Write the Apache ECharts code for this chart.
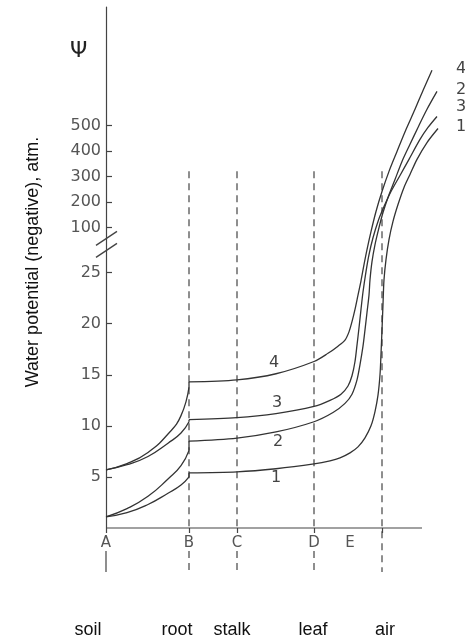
<!DOCTYPE html>
<html>
<head>
<meta charset="utf-8">
<script src="https://cdn.jsdelivr.net/npm/echarts@6/dist/echarts.min.js"></script>
<style>
  html, body { margin: 0; padding: 0; background: #fff; }
  #chart { width: 465px; height: 638px; }
</style>
</head>
<body>
<div id="chart"></div>
<script>
// positions along the soil -> plant -> air path (A = 0)
const stationNames = ['A', 'B', 'C', 'D', 'E'];
const stationX = [0, 83, 131, 208, 244];
const boundaryX = [0, 83, 131, 208, 276];      // A, B, C, D, air
const axisEndX = 316;
const regionNames = ['soil', 'root', 'stalk', 'leaf', 'air'];
const regionX = [-18, 71, 126, 207, 279];

// y ticks, atm (axis is broken between 25 and 100)
const yTicks = [5, 10, 15, 20, 25, 100, 200, 300, 400, 500];
const dashTopAtm = 320;

// soil -> root
const lowX = [0, 21, 42, 62, 75, 83];
const curve1Low = [1.1, 1.5, 2.3, 3.4, 4.2, 5.0];
const curve2Low = [1.1, 1.9, 3.1, 4.8, 6.1, 7.6];
const curve3Low = [5.7, 6.2, 7.0, 8.3, 9.3, 10.4];
const curve4Low = [5.7, 6.3, 7.4, 9.2, 11.0, 13.8];

// root -> air
const curve1X = [83, 131, 170, 208, 224, 234, 244, 252, 259, 265, 269, 272, 274, 275, 276, 277, 278, 280, 283, 287, 292, 298, 304, 311, 321, 332];
const curve1Y = [5.4, 5.5, 5.8, 6.27, 6.57, 6.86, 7.35, 7.94, 8.82, 10.0, 11.4, 13.0, 15.0, 17.0, 19.4, 21.9, 24.3, 46.7, 80, 124, 190, 257, 308, 367, 433, 488];
const curve2X = [83, 131, 170, 208, 227, 239, 246, 251, 254, 257, 259, 261, 263, 264, 266, 269, 273, 277, 282, 289, 296, 304, 312, 321, 331];
const curve2Y = [8.5, 8.8, 9.4, 10.4, 11.3, 12.2, 13.1, 14.5, 16.0, 17.8, 19.4, 21.1, 22.8, 24.3, 43.3, 71.7, 100, 159, 218, 288, 359, 426, 492, 563, 633];
const curve3X = [83, 131, 170, 208, 224, 235, 242, 246, 249, 251, 253, 255, 257, 260, 263, 267, 272, 278, 285, 294, 303, 314, 322, 331];
const curve3Y = [10.6, 10.8, 11.2, 11.9, 12.5, 13.1, 13.9, 14.9, 16.3, 17.9, 19.6, 21.4, 23.1, 26.7, 55, 83, 124, 182, 241, 304, 367, 445, 492, 535];
const curve4X = [83, 131, 170, 208, 222, 232, 239, 243, 246, 249, 252, 255, 258, 261, 265, 270, 276, 283, 291, 300, 309, 317, 326];
const curve4Y = [14.3, 14.5, 15.1, 16.3, 17.1, 17.8, 18.4, 19.2, 20.2, 21.4, 22.8, 24.2, 38.3, 63.3, 93.3, 163, 241, 320, 398, 484, 563, 637, 716];

// curve numbers
const midLabels = ['1', '2', '3', '4'];
const midLabelX = [165, 167, 166, 163];
const midLabelY = [4.9, 8.4, 12.3, 16.2];
const endLabels = ['4', '2', '3', '1'];
const endLabelX = [350, 350, 350, 350];
const endLabelY = [720, 641, 571, 496];

const breakAtm = [62, 82];

// broken axis: linear to 25, squeezed 25..100, then 2.5 units per 100 atm
function T(v) {
  if (v <= 25) return v;
  if (v <= 100) return 25 + (v - 25) * 4.41 / 75;
  return 29.41 + (v - 100) * 0.025;
}

const yTicksT = yTicks.map(T);
const ink = '#333';
const grey = '#555';

const chart = echarts.init(document.getElementById('chart'));

function curveSeries(xs, ys, smooth) {
  return {
    type: 'line',
    data: xs.map((x, i) => [x, T(ys[i])]),
    smooth: smooth,
    symbol: 'none',
    clip: false,
    silent: true,
    lineStyle: { color: ink, width: 1.3 }
  };
}

const curves = [
  { low: curve1Low, x: curve1X, y: curve1Y },
  { low: curve2Low, x: curve2X, y: curve2Y },
  { low: curve3Low, x: curve3X, y: curve3Y },
  { low: curve4Low, x: curve4X, y: curve4Y }
];

const series = [];
curves.forEach(c => {
  const n = lowX.length - 1;
  series.push(curveSeries(lowX, c.low, 0.5));
  series.push(curveSeries([lowX[n], c.x[0]], [c.low[n], c.y[0]], false));
  series.push(curveSeries(c.x, c.y, 0.3));
});

// x axis line (stops short of the grid edge)
series.push({
  type: 'custom',
  clip: false,
  silent: true,
  data: [[0, 0, axisEndX]],
  renderItem: (params, api) => {
    const a = api.coord([api.value(0), 0]);
    const b = api.coord([api.value(2), 0]);
    return { type: 'line', shape: { x1: a[0], y1: a[1], x2: b[0], y2: b[1] }, style: { stroke: '#444', lineWidth: 1.2 } };
  }
});

// dashed boundaries B, C, D, air and the short marks under the axis
series.push({
  type: 'custom',
  clip: false,
  silent: true,
  data: boundaryX.map(x => [x, 0]),
  renderItem: (params, api) => {
    const i = params.dataIndex;
    const top = api.coord([api.value(0), T(dashTopAtm)]);
    const base = api.coord([api.value(0), 0]);
    const dash = { stroke: '#444', lineWidth: 1.2, lineDash: [7, 5] };
    const kids = [];
    if (i === 0) {
      kids.push({ type: 'line', shape: { x1: base[0], y1: base[1] + 23, x2: base[0], y2: base[1] + 44 }, style: { stroke: '#444', lineWidth: 1.2 } });
    } else if (i === boundaryX.length - 1) {
      kids.push({ type: 'line', shape: { x1: top[0], y1: top[1], x2: base[0], y2: base[1] + 44 }, style: dash });
    } else {
      kids.push({ type: 'line', shape: { x1: top[0], y1: top[1], x2: base[0], y2: base[1] }, style: dash });
      kids.push({ type: 'line', shape: { x1: base[0], y1: base[1] + 23, x2: base[0], y2: base[1] + 44 }, style: dash });
    }
    return { type: 'group', children: kids };
  }
});

// region names under the axis
series.push({
  type: 'custom',
  clip: false,
  silent: true,
  data: regionX.map((x, i) => [x, 0, i]),
  renderItem: (params, api) => {
    const p = api.coord([api.value(0), 0]);
    return {
      type: 'text', x: p[0], y: p[1] + 102,
      style: { text: regionNames[api.value(2)], fontFamily: 'Liberation Sans', fontSize: 18, fill: '#111', align: 'center', verticalAlign: 'middle' }
    };
  }
});

// curve numbers
function numberSeries(xs, ys, names) {
  return {
    type: 'custom',
    clip: false,
    silent: true,
    data: xs.map((x, i) => [x, T(ys[i]), i]),
    renderItem: (params, api) => {
      const p = api.coord([api.value(0), api.value(1)]);
      return {
        type: 'text', x: p[0], y: p[1],
        style: { text: names[api.value(2)], fontFamily: 'DejaVu Sans', fontSize: 16, fill: '#444', align: 'left', verticalAlign: 'middle' }
      };
    }
  };
}
series.push(numberSeries(midLabelX, midLabelY, midLabels));
series.push(numberSeries(endLabelX, endLabelY, endLabels));

// axis break marks
series.push({
  type: 'custom',
  clip: false,
  silent: true,
  data: breakAtm.map(v => [0, T(v)]),
  renderItem: (params, api) => {
    const p = api.coord([api.value(0), api.value(1)]);
    return {
      type: 'line',
      shape: { x1: p[0] - 10, y1: p[1] + 7, x2: p[0] + 11, y2: p[1] - 7 },
      style: { stroke: '#444', lineWidth: 1.3 }
    };
  }
});

const option = {
  animation: false,
  grid: { left: 106, right: 19, top: 7, bottom: 110 },
  xAxis: {
    type: 'value',
    min: 0,
    max: 340,
    splitLine: { show: false },
    axisLine: { show: false },
    axisTick: { show: true, customValues: boundaryX, length: 5, lineStyle: { color: '#444', width: 1.2 } },
    axisLabel: {
      customValues: stationX,
      margin: 8,
      color: grey,
      fontFamily: 'DejaVu Sans',
      fontSize: 15,
      formatter: v => {
        const i = stationX.indexOf(v);
        return i >= 0 ? stationNames[i] : '';
      }
    }
  },
  yAxis: {
    type: 'value',
    min: 0,
    max: 51,
    splitLine: { show: false },
    axisLine: { show: true, lineStyle: { color: '#444', width: 1.2 } },
    axisTick: { show: true, inside: true, length: 6, customValues: yTicksT, lineStyle: { color: '#444', width: 1.2 } },
    axisLabel: {
      customValues: yTicksT,
      margin: 5,
      color: grey,
      fontFamily: 'DejaVu Sans',
      fontSize: 16,
      formatter: v => {
        const i = yTicksT.findIndex(t => Math.abs(t - v) < 1e-6);
        return i >= 0 ? String(yTicks[i]) : '';
      }
    }
  },
  graphic: [
    {
      type: 'text', left: 70, top: 40,
      style: { text: 'Ψ', fontFamily: 'DejaVu Sans', fontSize: 22, fill: '#222' }
    },
    {
      type: 'text', x: 33, y: 262, rotation: Math.PI / 2,
      style: { text: 'Water potential (negative), atm.', fontFamily: 'Liberation Sans', fontSize: 18, fill: '#111', align: 'center', verticalAlign: 'middle' }
    }
  ],
  series: series
};

chart.setOption(option);
</script>
</body>
</html>
